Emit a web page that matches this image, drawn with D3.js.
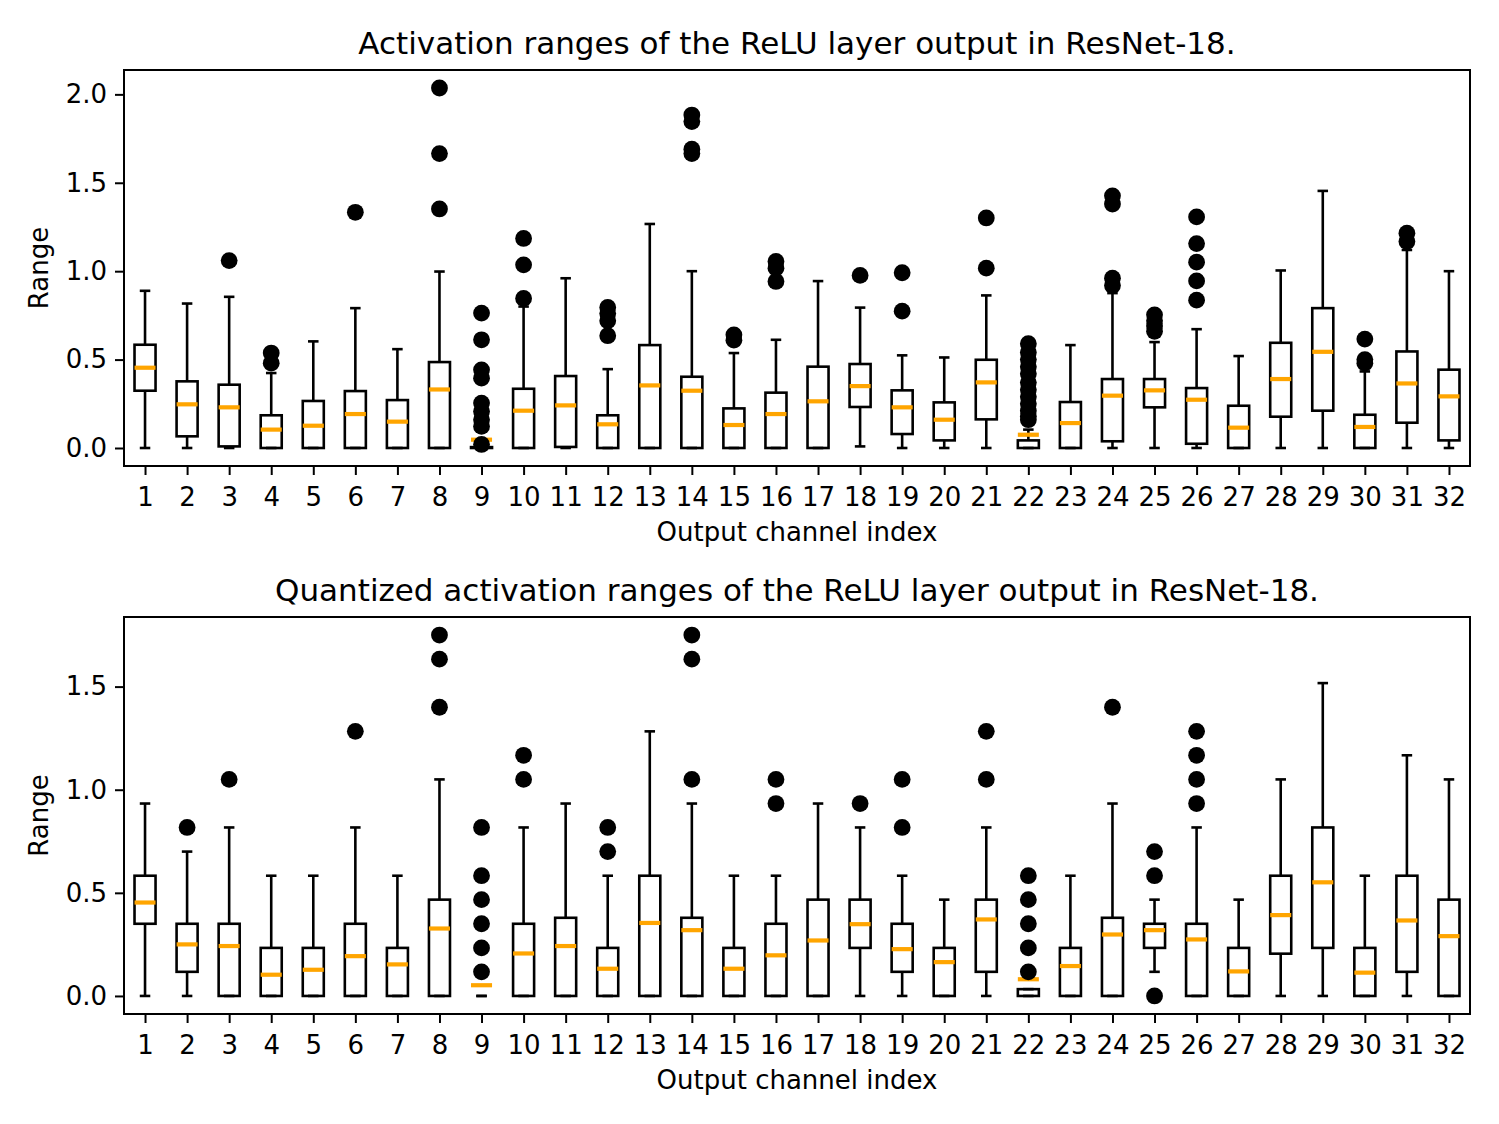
<!DOCTYPE html>
<html>
<head>
<meta charset="utf-8">
<script src="https://cdn.jsdelivr.net/npm/d3@7"></script>
<style>
  html, body { margin: 0; padding: 0; background: #fff; }
  svg { display: block; font-family: "DejaVu Sans", sans-serif; }
</style>
</head>
<body>
<svg id="chart" width="1499" height="1124"></svg>
<script>
// ---------------- data ----------------
const channels = d3.range(1, 33);

// Top chart: activation ranges
const topTitle = "Activation ranges of the ReLU layer output in ResNet-18.";
const topWhiskerLow = [0,0,0,0,0,0,0,0,0,0,0,0,0,0,0,0,0,0.009,0,0,0,0,0,0,0,0,0,0,0,0,0,0];
const topQ1 = [0.324,0.066,0.009,0,0,0,0,0,0,0,0.006,0,0,0,0,0,0,0.232,0.079,0.043,0.162,0,0,0.038,0.230,0.024,0,0.177,0.211,0,0.143,0.043];
const topMedian = [0.454,0.247,0.230,0.104,0.126,0.192,0.149,0.331,0.047,0.211,0.241,0.134,0.354,0.324,0.130,0.192,0.264,0.350,0.230,0.160,0.371,0.075,0.141,0.296,0.326,0.273,0.115,0.390,0.544,0.119,0.365,0.292];
const topQ3 = [0.584,0.377,0.358,0.185,0.266,0.322,0.271,0.486,0.005,0.335,0.407,0.185,0.582,0.403,0.224,0.313,0.460,0.475,0.326,0.258,0.499,0.043,0.260,0.390,0.390,0.339,0.239,0.595,0.791,0.188,0.546,0.443];
const topWhiskerHigh = [0.889,0.817,0.855,0.424,0.603,0.791,0.559,0.998,0.010,0.800,0.960,0.446,1.267,1.000,0.537,0.612,0.944,0.794,0.524,0.512,0.863,0.104,0.582,0.876,0.599,0.672,0.520,1.004,1.454,0.433,1.120,1.000];
const topOutliers = [
  [], [], [1.06], [0.48,0.537], [], [1.333], [], [1.352,1.665,2.036],
  [0.02,0.122,0.16,0.207,0.254,0.395,0.442,0.612,0.763],
  [0.846,1.036,1.185], [], [0.635,0.72,0.76,0.795], [], [1.665,1.69,1.846,1.883],
  [0.61,0.64], [0.942,1.017,1.055], [], [0.976], [0.774,0.991], [], [1.017,1.301],
  [0.16,0.18,0.21,0.25,0.29,0.33,0.37,0.42,0.46,0.50,0.54,0.59],
  [], [0.919,0.96,1.38,1.426], [0.66,0.69,0.72,0.753], [0.836,0.945,1.051,1.156,1.307],
  [], [], [], [0.48,0.50,0.616], [1.168,1.215], []
];
const topYTicks = [0.0, 0.5, 1.0, 1.5, 2.0];

// Bottom chart: quantized activation ranges
const botTitle = "Quantized activation ranges of the ReLU layer output in ResNet-18.";
const botWhiskerLow = [0,0,0,0,0,0,0,0,0,0,0,0,0,0,0,0,0,0,0,0,0,0,0,0,0.117,0,0,0,0,0,0,0];
const botQ1 = [0.35,0.117,0,0,0,0,0,0,0,0,0,0,0,0,0,0,0,0.233,0.117,0,0.117,0,0,0,0.233,0,0,0.205,0.233,0,0.117,0];
const botMedian = [0.453,0.25,0.242,0.103,0.127,0.193,0.153,0.327,0.052,0.206,0.242,0.132,0.354,0.319,0.132,0.197,0.269,0.348,0.227,0.164,0.371,0.081,0.145,0.298,0.319,0.274,0.119,0.392,0.551,0.113,0.366,0.29];
const botQ3 = [0.583,0.35,0.35,0.233,0.233,0.35,0.233,0.467,0,0.35,0.379,0.233,0.583,0.379,0.233,0.35,0.467,0.467,0.35,0.233,0.467,0.033,0.233,0.379,0.35,0.35,0.233,0.583,0.817,0.233,0.583,0.467];
const botWhiskerHigh = [0.933,0.70,0.817,0.583,0.583,0.817,0.583,1.05,0,0.817,0.933,0.583,1.283,0.933,0.583,0.583,0.933,0.817,0.583,0.467,0.817,0.033,0.583,0.933,0.467,0.817,0.467,1.05,1.517,0.583,1.167,1.05];
const botOutliers = [
  [], [0.817], [1.05], [], [], [1.283], [], [1.4,1.633,1.75],
  [0.117,0.233,0.35,0.467,0.583,0.817],
  [1.05,1.167], [], [0.70,0.817], [], [1.05,1.633,1.75], [], [0.933,1.05], [],
  [0.933], [0.817,1.05], [], [1.05,1.283], [0.117,0.233,0.35,0.467,0.583],
  [], [1.4], [0,0.583,0.70], [0.933,1.05,1.167,1.283], [], [], [], [], [], []
];
const botYTicks = [0.0, 0.5, 1.0, 1.5];

const xLabel = "Output channel index";
const yLabel = "Range";

// ---------------- drawing ----------------
const svg = d3.select("#chart");
svg.append("rect").attr("width", 1499).attr("height", 1124).attr("fill", "#fff");

const L = 124, R = 1470;
const boxW = 0.5, capW = 0.25;

function panel(cfg) {
  const g = svg.append("g");
  const x = d3.scaleLinear().domain([0.5, 32.5]).range([L, R]);
  const allMax = d3.max(cfg.outliers.flat().concat(cfg.whiskerHigh));
  const allMin = 0;
  const span = allMax - allMin;
  const y = d3.scaleLinear().domain([allMin - 0.05 * span, allMax + 0.05 * span]).range([cfg.bottom, cfg.top]);
  const bw = x(1 + boxW / 2) - x(1);
  const cw = x(1 + capW / 2) - x(1);

  const data = channels.map((c, i) => ({
    c, lo: cfg.whiskerLow[i], q1: cfg.q1[i], med: cfg.median[i], q3: cfg.q3[i], hi: cfg.whiskerHigh[i], out: cfg.outliers[i]
  }));

  const lw = 2.6;
  // whiskers
  g.selectAll(".wl").data(data).join("line")
    .attr("x1", d => x(d.c)).attr("x2", d => x(d.c))
    .attr("y1", d => y(d.q1)).attr("y2", d => y(d.lo))
    .attr("stroke", "#000").attr("stroke-width", lw);
  g.selectAll(".wh").data(data).join("line")
    .attr("x1", d => x(d.c)).attr("x2", d => x(d.c))
    .attr("y1", d => y(d.q3)).attr("y2", d => y(d.hi))
    .attr("stroke", "#000").attr("stroke-width", lw);
  // caps
  g.selectAll(".cl").data(data).join("line")
    .attr("x1", d => x(d.c) - cw).attr("x2", d => x(d.c) + cw)
    .attr("y1", d => y(d.lo)).attr("y2", d => y(d.lo))
    .attr("stroke", "#000").attr("stroke-width", lw);
  g.selectAll(".ch").data(data).join("line")
    .attr("x1", d => x(d.c) - cw).attr("x2", d => x(d.c) + cw)
    .attr("y1", d => y(d.hi)).attr("y2", d => y(d.hi))
    .attr("stroke", "#000").attr("stroke-width", lw);
  // boxes
  g.selectAll(".bx").data(data).join("rect")
    .attr("x", d => x(d.c) - bw).attr("width", 2 * bw)
    .attr("y", d => y(Math.max(d.q1, d.q3))).attr("height", d => Math.abs(y(d.q1) - y(d.q3)))
    .attr("fill", "none").attr("stroke", "#000").attr("stroke-width", lw);
  // medians
  g.selectAll(".md").data(data).join("line")
    .attr("x1", d => x(d.c) - bw).attr("x2", d => x(d.c) + bw)
    .attr("y1", d => y(d.med)).attr("y2", d => y(d.med))
    .attr("stroke", "#FFA500").attr("stroke-width", 4.2);
  // outliers
  const fl = data.flatMap(d => d.out.map(v => ({ c: d.c, v })));
  g.selectAll(".fl").data(fl).join("circle")
    .attr("cx", d => x(d.c)).attr("cy", d => y(d.v)).attr("r", 8.4)
    .attr("fill", "#000");

  // frame
  g.append("rect").attr("x", L).attr("y", cfg.top).attr("width", R - L).attr("height", cfg.bottom - cfg.top)
    .attr("fill", "none").attr("stroke", "#000").attr("stroke-width", 2);

  // axes
  const xAxis = d3.axisBottom(x).tickValues(channels).tickSize(9).tickPadding(13).tickFormat(d3.format("d"));
  const xa = g.append("g").attr("transform", `translate(0,${cfg.bottom})`).call(xAxis);
  const yAxis = d3.axisLeft(y).tickValues(cfg.yTicks).tickSize(9).tickPadding(8).tickFormat(d3.format(".1f"));
  const ya = g.append("g").attr("transform", `translate(${L},0)`).call(yAxis);
  [xa, ya].forEach(a => {
    a.select(".domain").remove();
    a.selectAll(".tick line").attr("stroke", "#000").attr("stroke-width", 2);
    a.selectAll(".tick text").attr("fill", "#000").style("font-size", "26px").style("font-family", "DejaVu Sans");
  });

  // title
  g.append("text").attr("x", (L + R) / 2).attr("y", cfg.top - 16)
    .attr("text-anchor", "middle").style("font-size", "31px").text(cfg.title);
  // x label
  g.append("text").attr("x", (L + R) / 2).attr("y", cfg.bottom + 75)
    .attr("text-anchor", "middle").style("font-size", "26px").text(xLabel);
  // y label
  g.append("text").attr("transform", `translate(48,${(cfg.top + cfg.bottom) / 2}) rotate(-90)`)
    .attr("text-anchor", "middle").style("font-size", "26px").text(yLabel);
}

panel({ top: 70, bottom: 466, title: topTitle, whiskerLow: topWhiskerLow, q1: topQ1, median: topMedian, q3: topQ3, whiskerHigh: topWhiskerHigh, outliers: topOutliers, yTicks: topYTicks });
panel({ top: 617, bottom: 1014, title: botTitle, whiskerLow: botWhiskerLow, q1: botQ1, median: botMedian, q3: botQ3, whiskerHigh: botWhiskerHigh, outliers: botOutliers, yTicks: botYTicks });
</script>
</body>
</html>
